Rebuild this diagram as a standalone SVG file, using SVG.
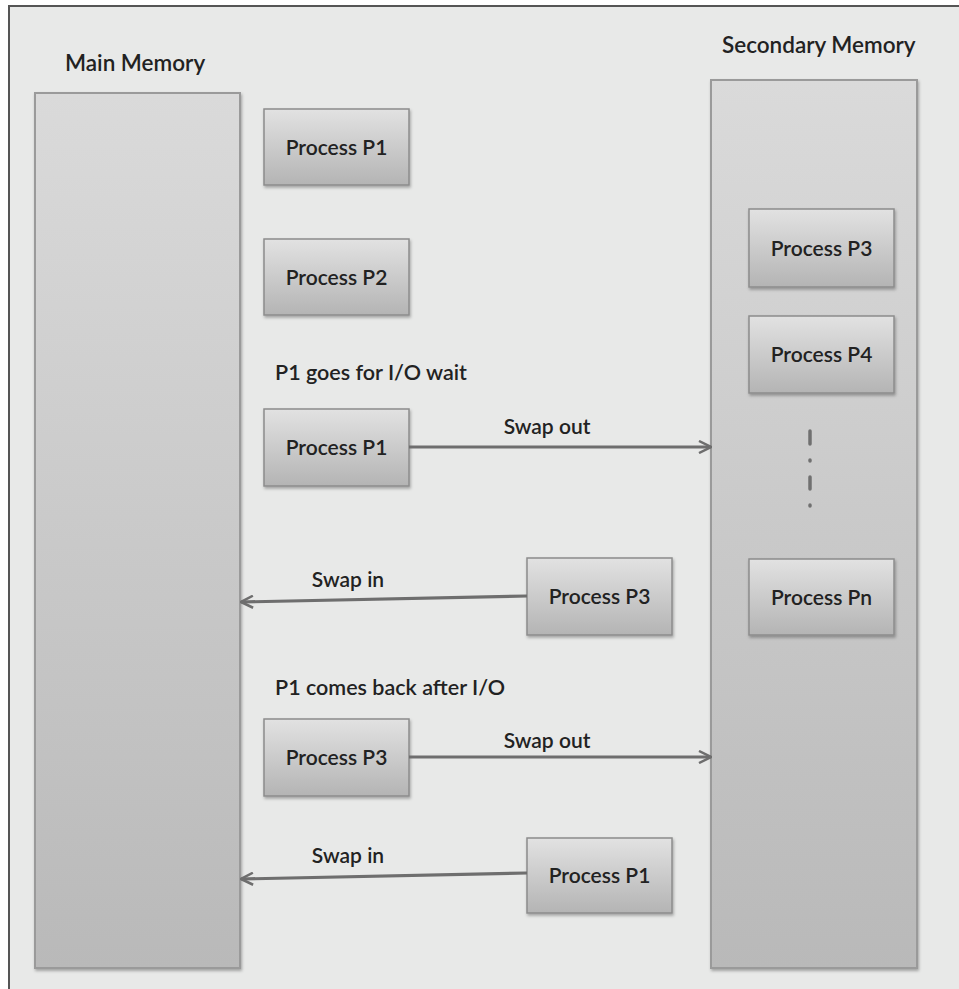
<svg xmlns="http://www.w3.org/2000/svg" width="959" height="989" viewBox="0 0 959 989">
<defs>
<linearGradient id="mem" x1="0" y1="0" x2="0" y2="1">
<stop offset="0" stop-color="#dadada"/>
<stop offset="1" stop-color="#b9b9b9"/>
</linearGradient>
<linearGradient id="box" x1="0" y1="0" x2="0" y2="1">
<stop offset="0" stop-color="#e2e2e2"/>
<stop offset="1" stop-color="#b4b4b4"/>
</linearGradient>
<filter id="sh" x="-10%" y="-10%" width="130%" height="130%">
<feDropShadow dx="1" dy="2" stdDeviation="1.5" flood-color="#000" flood-opacity="0.3"/>
</filter>
<marker id="ah" viewBox="0 0 14 14" refX="13" refY="7" markerWidth="14" markerHeight="14" markerUnits="userSpaceOnUse" orient="auto">
<path d="M1,1 L13,7 L1,13" fill="none" stroke="#6e6e6e" stroke-width="2.5"/>
</marker>
<style>
.mem{fill:url(#mem);stroke:#9a9a9a;stroke-width:2;filter:url(#sh)}
.box{fill:url(#box);stroke:#8c8c8c;stroke-width:1.5;filter:url(#sh)}
text{font-family:Lato,"Open Sans","Liberation Sans",sans-serif;fill:#222;font-weight:600}
.t{font-size:21px;text-anchor:middle}
.l{font-size:21.5px}
.h{font-size:22.5px}
.c{stroke:#6e6e6e;stroke-width:3.2;fill:none;marker-end:url(#ah)}
</style>
</defs>
<rect x="0" y="0" width="959" height="989" fill="#ffffff"/>
<rect x="9" y="6" width="960" height="990" fill="#e8e9e8" stroke="#555" stroke-width="2"/>

<g id="main-memory">
<rect class="mem" x="35" y="93" width="205" height="875"/>
<text class="h" x="65" y="71">Main Memory</text>
</g>
<g id="secondary-memory">
<rect class="mem" x="711" y="80" width="206" height="888"/>
<text class="h" x="722" y="53">Secondary Memory</text>
</g>

<g id="p1-top"><rect class="box" x="264" y="109" width="145" height="76"/><text class="t" x="336.5" y="155">Process P1</text></g>
<g id="p2"><rect class="box" x="264" y="239" width="145" height="76"/><text class="t" x="336.5" y="285">Process P2</text></g>
<g id="label-io-wait"><text class="l" x="275" y="380">P1 goes for I/O wait</text></g>
<g id="p1-out"><rect class="box" x="264" y="409" width="145" height="77"/><text class="t" x="336.5" y="455">Process P1</text></g>
<g id="p3-in"><rect class="box" x="527" y="558" width="145" height="77"/><text class="t" x="599.5" y="604">Process P3</text></g>
<g id="label-comes-back"><text class="l" x="275" y="695">P1 comes back after I/O</text></g>
<g id="p3-out"><rect class="box" x="264" y="719" width="145" height="77"/><text class="t" x="336.5" y="765">Process P3</text></g>
<g id="p1-in"><rect class="box" x="527" y="838" width="145" height="75"/><text class="t" x="599.5" y="883">Process P1</text></g>

<g id="sec-p3"><rect class="box" x="749" y="209" width="145" height="78"/><text class="t" x="821.5" y="256">Process P3</text></g>
<g id="sec-p4"><rect class="box" x="749" y="316" width="145" height="77"/><text class="t" x="821.5" y="362">Process P4</text></g>
<g id="sec-dots" stroke="#707070" stroke-linecap="round">
<line x1="810" y1="431" x2="810" y2="444" stroke-width="3.5"/>
<line x1="810" y1="460" x2="810" y2="461" stroke-width="3.5"/>
<line x1="810" y1="477" x2="810" y2="489" stroke-width="3.5"/>
<line x1="810" y1="505" x2="810" y2="506" stroke-width="3.5"/>
</g>
<g id="sec-pn"><rect class="box" x="749" y="559" width="145" height="76"/><text class="t" x="821.5" y="605">Process Pn</text></g>

<g id="connectors">
<line class="c" x1="409" y1="447" x2="711" y2="447"/>
<text class="t" x="547" y="434">Swap out</text>
<line class="c" x1="527" y1="596" x2="241" y2="602"/>
<text class="t" x="348" y="587">Swap in</text>
<line class="c" x1="409" y1="757" x2="711" y2="757"/>
<text class="t" x="547" y="748">Swap out</text>
<line class="c" x1="527" y1="873" x2="241" y2="879"/>
<text class="t" x="348" y="863">Swap in</text>
</g>
</svg>
